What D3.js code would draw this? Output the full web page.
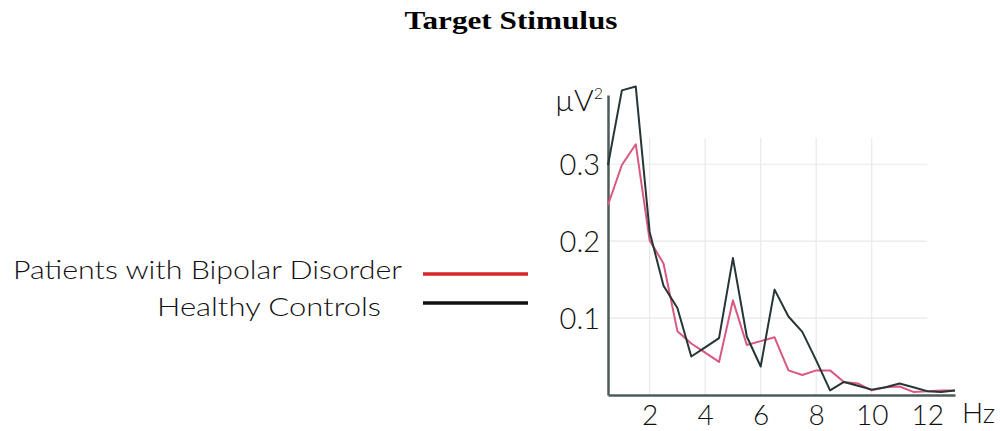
<!DOCTYPE html>
<html>
<head>
<meta charset="utf-8">
<script src="https://cdn.jsdelivr.net/npm/d3@7"></script>
<style>
  html, body { margin: 0; padding: 0; background: #fff; }
  svg { display: block; }
  .tick text { font-family: Lato, "Open Sans", sans-serif; font-weight: 300; fill: #111; }
</style>
</head>
<body>
<svg id="chart" width="1000" height="431"></svg>
<script>
// Power spectrum (µV²) for the target stimulus, sampled every 0.5 Hz from 0.5 to 13 Hz
const frequencies = [0.5, 1, 1.5, 2, 2.5, 3, 3.5, 4, 4.5, 5, 5.5, 6, 6.5, 7, 7.5, 8,
                     8.5, 9, 9.5, 10, 10.5, 11, 11.5, 12, 12.5, 13];
const bipolarPower = [0.247, 0.299, 0.326, 0.201, 0.171, 0.083, 0.067, 0.055, 0.043, 0.123,
                      0.065, 0.070, 0.075, 0.032, 0.026, 0.032, 0.032, 0.017, 0.015, 0.006,
                      0.010, 0.011, 0.004, 0.005, 0.006, 0.006];
const controlPower = [0.299, 0.396, 0.401, 0.212, 0.142, 0.113, 0.050, 0.062, 0.074, 0.178,
                      0.076, 0.037, 0.137, 0.102, 0.082, 0.045, 0.006, 0.017, 0.012, 0.007,
                      0.010, 0.015, 0.010, 0.005, 0.004, 0.006];
const xTicks = [2, 4, 6, 8, 10, 12];
const yTicks = [0.1, 0.2, 0.3];
const seriesNames = ["Patients with Bipolar Disorder", "Healthy Controls"];

const svg = d3.select("#chart");
const sans = "Lato, 'Open Sans', sans-serif";

const x = d3.scaleLinear().domain([0.5, 13]).range([608, 955]);
const y = d3.scaleLinear().domain([0, 0.39]).range([395, 95]);

// Title
svg.append("text")
  .attr("x", 511).attr("y", 29)
  .attr("text-anchor", "middle")
  .attr("font-family", "'Liberation Serif', 'Times New Roman', serif")
  .attr("font-weight", "bold")
  .attr("font-size", 25)
  .attr("textLength", 213)
  .attr("lengthAdjust", "spacingAndGlyphs")
  .text("Target Stimulus");

// Light grid: vertical lines at the even frequencies, horizontal at the y ticks
const grid = svg.append("g").attr("stroke", "#e6eaea").attr("stroke-width", 1.2);
grid.selectAll("line.v").data(xTicks.filter(d => d < 12)).join("line")
  .attr("class", "v")
  .attr("x1", d => x(d)).attr("x2", d => x(d))
  .attr("y1", y(0.334)).attr("y2", y(0));
grid.selectAll("line.h").data(yTicks).join("line")
  .attr("class", "h")
  .attr("x1", x(0.5)).attr("x2", x(12))
  .attr("y1", d => y(d)).attr("y2", d => y(d));

// Axes
const axisColor = "#4d5b5b";
const xAxis = svg.append("g")
  .attr("transform", `translate(0,${y(0)})`)
  .call(d3.axisBottom(x).tickValues(xTicks).tickSize(0).tickPadding(8).tickFormat(d3.format("d")));
xAxis.select(".domain").attr("stroke", axisColor).attr("stroke-width", 2.5);
xAxis.selectAll(".tick text").attr("font-size", 28).attr("dy", "0.8em");

const yAxis = svg.append("g")
  .attr("transform", `translate(${x(0.5)},0)`)
  .call(d3.axisLeft(y).tickValues(yTicks).tickSize(0).tickPadding(8).tickFormat(d3.format(".1f")));
yAxis.select(".domain").attr("stroke", axisColor).attr("stroke-width", 2.5);
yAxis.selectAll(".tick text").attr("font-size", 29).attr("dy", "0.36em");

// Axis units
svg.append("text")
  .attr("x", 962).attr("y", 423)
  .attr("font-family", sans)
  .attr("font-weight", 300)
  .attr("font-size", 28)
  .attr("fill", "#111")
  .text("Hz");

const unit = svg.append("text")
  .attr("x", 555).attr("y", 111)
  .attr("font-family", sans)
  .attr("font-weight", 300)
  .attr("font-size", 30)
  .attr("fill", "#111");
unit.append("tspan").text("µV");
unit.append("tspan").attr("font-size", 16).attr("dy", -12).text("2");

// Spectra
const line = d3.line()
  .x((d, i) => x(frequencies[i]))
  .y(d => y(d));

svg.append("path")
  .datum(bipolarPower)
  .attr("fill", "none")
  .attr("stroke", "#d9587f")
  .attr("stroke-width", 2)
  .attr("stroke-linejoin", "round")
  .attr("d", line);

svg.append("path")
  .datum(controlPower)
  .attr("fill", "none")
  .attr("stroke", "#263636")
  .attr("stroke-width", 2)
  .attr("stroke-linejoin", "round")
  .attr("d", line);

// Legend
const legendItems = [
  { name: seriesNames[0], color: "#d42626", textEnd: 402, textWidth: 389, textY: 279, lineY: 274 },
  { name: seriesNames[1], color: "#111111", textEnd: 381, textWidth: 224, textY: 316, lineY: 303 }
];
const legend = svg.append("g");
legend.selectAll("text").data(legendItems).join("text")
  .attr("x", d => d.textEnd).attr("y", d => d.textY)
  .attr("text-anchor", "end")
  .attr("font-family", sans)
  .attr("font-weight", 300)
  .attr("font-size", 26)
  .attr("fill", "#111")
  .attr("textLength", d => d.textWidth)
  .attr("lengthAdjust", "spacingAndGlyphs")
  .text(d => d.name);
legend.selectAll("line").data(legendItems).join("line")
  .attr("x1", 423).attr("x2", 528)
  .attr("y1", d => d.lineY).attr("y2", d => d.lineY)
  .attr("stroke", d => d.color)
  .attr("stroke-width", 3.5);
</script>
</body>
</html>
